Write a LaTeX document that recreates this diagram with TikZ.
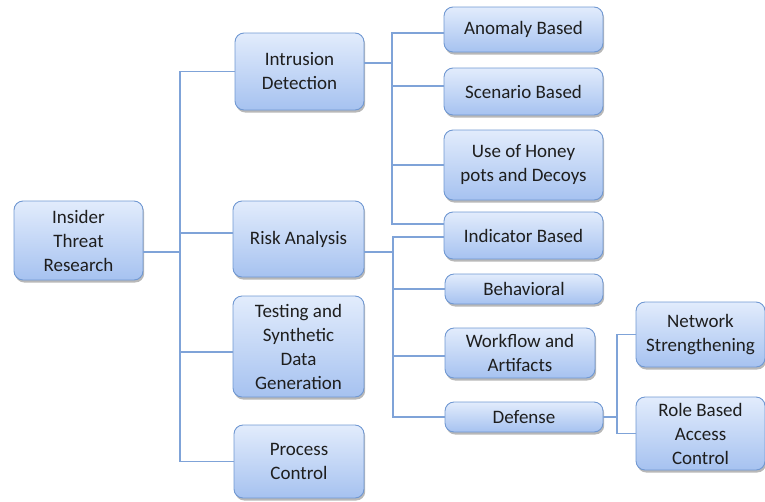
\documentclass[tikz,border=0pt]{standalone}
\usepackage{fontspec}
\setmainfont{Carlito}
\usetikzlibrary{shadows}
\definecolor{boxtop}{HTML}{E2ECFC}
\definecolor{boxbot}{HTML}{A6C2F0}
\definecolor{boxedge}{HTML}{7098D2}
\definecolor{linkcol}{HTML}{7FA3D8}
\definecolor{txt}{HTML}{1E1E1E}
\tikzset{
  box/.style={rounded corners=9pt, draw=boxedge, line width=0.9pt,
    top color=boxtop, bottom color=boxbot, align=center, text=txt,
    font=\fontsize{19pt}{24pt}\selectfont, inner sep=1pt,
    drop shadow={shadow xshift=1.2pt, shadow yshift=-2.5pt, fill=black, opacity=0.28}},
  link/.style={draw=linkcol, line width=1.2pt}
}
\begin{document}
\begin{tikzpicture}[x=1pt, y=-1pt]
\useasboundingbox (0,0) rectangle (765,501);
% level 0
\node[box, minimum width=129pt, minimum height=79pt] (root) at (78.5,240.5) {Insider\\Threat\\Research};
% level 1
\node[box, minimum width=129pt, minimum height=77pt] (intr) at (299.5,71.5) {Intrusion\\Detection};
\node[box, minimum width=131pt, minimum height=76pt] (risk) at (298.5,239) {Risk Analysis};
\node[box, minimum width=131pt, minimum height=101pt] (test) at (298.5,346.5) {Testing and\\Synthetic\\Data\\Generation};
\node[box, minimum width=130pt, minimum height=73pt] (proc) at (299,461.5) {Process\\Control};
% level 2
\node[box, minimum width=159pt, minimum height=45pt] (anom) at (523.5,29.5) {Anomaly Based};
\node[box, minimum width=159pt, minimum height=47pt] (scen) at (523.5,91.5) {Scenario Based};
\node[box, minimum width=159pt, minimum height=70pt] (hony) at (523.5,165) {Use of Honey\\pots and Decoys};
\node[box, minimum width=159pt, minimum height=47pt] (indi) at (523.5,235.5) {Indicator Based};
\node[box, minimum width=158pt, minimum height=30pt] (behv) at (524,289) {Behavioral};
\node[box, minimum width=150pt, minimum height=50pt] (work) at (520,353) {Workflow and\\Artifacts};
\node[box, minimum width=158pt, minimum height=30pt] (defn) at (524,417) {Defense};
% level 3
\node[box, minimum width=129pt, minimum height=65pt] (netw) at (700.5,334.5) {Network\\Strengthening};
\node[box, minimum width=129pt, minimum height=73pt] (role) at (700.5,433.5) {Role Based\\Access\\Control};
% attachment points on the box sides
\coordinate (rootout) at ([yshift=-11.5pt]root.east);
\coordinate (riskin)  at ([yshift=6pt]risk.west);
\coordinate (testin)  at ([yshift=-5.5pt]test.west);
\coordinate (introut) at ([yshift=8.5pt]intr.east);
\coordinate (anomin)  at ([yshift=-3.5pt]anom.west);
\coordinate (scenin)  at ([yshift=5.5pt]scen.west);
\coordinate (indiinA) at ([yshift=11.5pt]indi.west);
\coordinate (indiinB) at ([yshift=-1.5pt]indi.west);
\coordinate (riskout) at ([yshift=-13pt]risk.east);
\coordinate (workin)  at ([yshift=-3pt]work.west);
% trunk x positions
\coordinate (j1) at (180,252);
\coordinate (j2) at (392,63);
\coordinate (j3) at (393,252);
\coordinate (j4) at (617,417);
% root to level 1
\draw[link] (rootout) -- (j1);
\draw[link] (intr.west) -| (j1 |- proc.west) -- (proc.west);
\draw[link] (j1 |- riskin) -- (riskin);
\draw[link] (j1 |- testin) -- (testin);
% intrusion detection branches
\draw[link] (introut) -- (j2);
\draw[link] (anomin) -| (j2 |- indiinA) -- (indiinA);
\draw[link] (j2 |- scenin) -- (scenin);
\draw[link] (j2 |- hony.west) -- (hony.west);
% risk analysis branches
\draw[link] (riskout) -- (j3);
\draw[link] (indiinB) -| (j3 |- defn.west) -- (defn.west);
\draw[link] (j3 |- behv.west) -- (behv.west);
\draw[link] (j3 |- workin) -- (workin);
% defense branches
\draw[link] (defn.east) -- (j4);
\draw[link] (netw.west) -| (j4 |- role.west) -- (role.west);
\end{tikzpicture}
\end{document}
